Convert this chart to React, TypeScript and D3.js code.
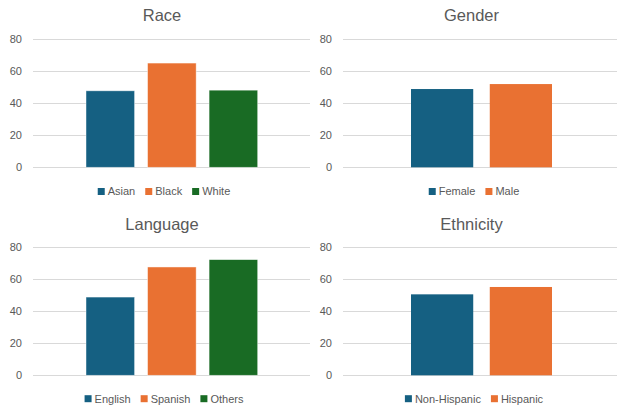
import React from "react";
import * as d3 from "d3";

const raceCategories = ["Asian", "Black", "White"];
const raceValues = [47.7, 65, 48.1];
const genderCategories = ["Female", "Male"];
const genderValues = [48.8, 51.9];
const languageCategories = ["English", "Spanish", "Others"];
const languageValues = [48.9, 67.7, 72.3];
const ethnicityCategories = ["Non-Hispanic", "Hispanic"];
const ethnicityValues = [50.6, 55.2];
const yTicks = [0, 20, 40, 60, 80];
const seriesColors = ["#156082", "#E97132", "#196B24"];

const FONT = "'Liberation Sans', Arial, sans-serif";
const TEXT = "#595959";
const GRID = "#D9D9D9";

let ctx: CanvasRenderingContext2D | null = null;
function measure(text: string, size: number) {
  if (!ctx) ctx = document.createElement("canvas").getContext("2d");
  if (!ctx) return text.length * size * 0.5;
  ctx.font = `${size}px ${FONT}`;
  return ctx.measureText(text).width;
}

type PanelProps = {
  title: string;
  cats: string[];
  vals: number[];
  plotL: number;
  plotR: number;
  groupL: number;
  groupR: number;
  yTop: number;
  yBottom: number;
  tickX: number;
  titleX: number;
  titleY: number;
  legendY: number;
  legendCx: number;
  outline: boolean;
};

function Panel(p: PanelProps) {
  const y = d3.scaleLinear().domain([0, 80]).range([p.yBottom, p.yTop]);
  const x = d3.scaleBand<string>().domain(p.cats).range([p.groupL, p.groupR]).paddingInner(0.21).paddingOuter(0);
  const fs = 11;
  const sq = 7;
  const widths = p.cats.map((c) => measure(c, fs));
  const itemW = widths.map((w) => sq + 3 + w);
  const total = d3.sum(itemW) + 10 * (p.cats.length - 1);
  let cur = p.legendCx - total / 2;
  const items = p.cats.map((c, i) => {
    const x0 = cur;
    cur += itemW[i] + 10;
    return { c, x0, color: seriesColors[i] };
  });
  return (
    <g>
      <text x={p.titleX} y={p.titleY} textAnchor="middle" fontSize={16.5} fill={TEXT} fontFamily={FONT}>
        {p.title}
      </text>
      {yTicks.map((t) => (
        <g key={t}>
          <line x1={p.plotL} x2={p.plotR} y1={Math.round(y(t)) + 0.5} y2={Math.round(y(t)) + 0.5} stroke={GRID} strokeWidth={1} />
          <text x={p.tickX} y={y(t)} dy="0.35em" textAnchor="end" fontSize={fs} fill={TEXT} fontFamily={FONT}>
            {t}
          </text>
        </g>
      ))}
      {p.cats.map((c, i) => (
        <rect
          key={c}
          x={x(c)}
          y={y(p.vals[i])}
          width={x.bandwidth()}
          height={y(0) - y(p.vals[i])}
          fill={seriesColors[i]}
          stroke={p.outline ? "rgba(255,255,255,0.6)" : "none"}
          strokeWidth={0.75}
        />
      ))}
      {items.map((it) => (
        <g key={it.c}>
          <rect x={it.x0} y={p.legendY - sq / 2} width={sq} height={sq} fill={it.color} />
          <text x={it.x0 + sq + 3} y={p.legendY} dy="0.35em" fontSize={fs} fill={TEXT} fontFamily={FONT}>
            {it.c}
          </text>
        </g>
      ))}
    </g>
  );
}

export default function App() {
  const left = { plotL: 33, plotR: 310, groupL: 86, groupR: 257.7, tickX: 22, titleX: 162, legendCx: 164, outline: true };
  const right = { plotL: 343, plotR: 617, groupL: 411, groupR: 552, tickX: 332, titleX: 471.5, legendCx: 474, outline: false };
  const top = { yTop: 39, yBottom: 167.3, titleY: 21, legendY: 191.5 };
  const bottom = { yTop: 247.3, yBottom: 375.3, titleY: 229.5, legendY: 398.7 };
  return (
    <svg width={617} height={407} style={{ position: "absolute", left: 0, top: 0, background: "#fff" }}>
      <rect width={617} height={407} fill="#fff" />
      <Panel title="Race" cats={raceCategories} vals={raceValues} {...left} {...top} />
      <Panel title="Gender" cats={genderCategories} vals={genderValues} {...right} {...top} />
      <Panel title="Language" cats={languageCategories} vals={languageValues} {...left} {...bottom} />
      <Panel title="Ethnicity" cats={ethnicityCategories} vals={ethnicityValues} {...right} {...bottom} />
    </svg>
  );
}
